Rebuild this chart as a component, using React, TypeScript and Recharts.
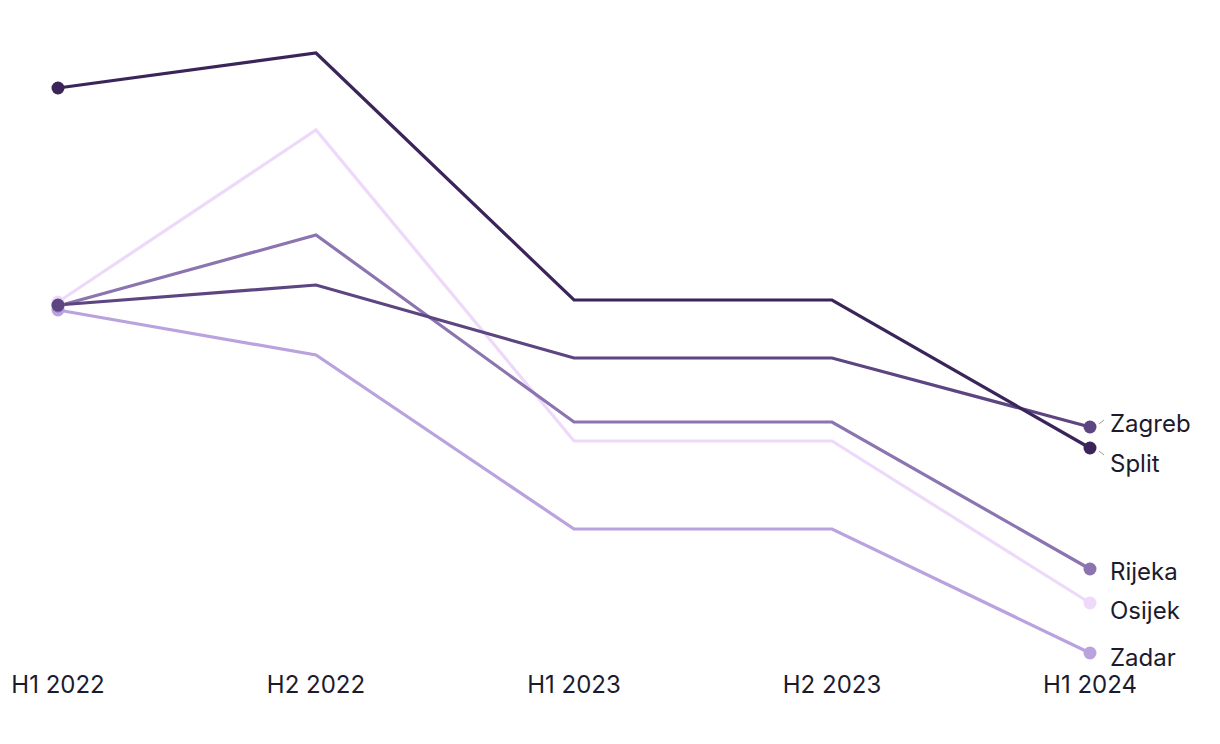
import { LineChart, Line, XAxis, YAxis, LabelList } from 'recharts';

const periods = ['H1 2022', 'H2 2022', 'H1 2023', 'H2 2023', 'H1 2024'];

const split = [582, 617, 370, 370, 222];
const zagreb = [365, 385, 312, 312, 243];
const rijeka = [364, 435, 248, 248, 101];
const osijek = [368, 540, 229, 229, 67];
const zadar = [360, 315, 141, 141, 17];

const series = [
  { key: 'Zadar', values: zadar, color: '#b9a2de', dy: 5, leader: 0 },
  { key: 'Osijek', values: osijek, color: '#eed9fa', dy: 8, leader: 0 },
  { key: 'Rijeka', values: rijeka, color: '#8b74b0', dy: 3, leader: 0 },
  { key: 'Zagreb', values: zagreb, color: '#5c4580', dy: -3, leader: -1 },
  { key: 'Split', values: split, color: '#3b2459', dy: 16, leader: 1 },
];

const data = periods.map((p, i) => {
  const row: Record<string, string | number> = { period: p };
  series.forEach((s) => (row[s.key] = s.values[i]));
  return row;
});

const last = periods.length - 1;
const font = "Inter, 'Noto Sans', sans-serif";

function makeDot(color: string) {
  return (props: any) => {
    const { cx, cy, index } = props;
    if (index !== 0 && index !== last) return <g key={index} />;
    return <circle key={index} cx={cx} cy={cy} r={6.5} fill={color} stroke="none" />;
  };
}

function makeLabel(name: string, dy: number, leader: number) {
  return (props: any) => {
    const { x, y, index } = props;
    if (index !== last) return null;
    return (
      <g>
        {leader !== 0 && (
          <line
            x1={x + 9}
            y1={y + leader * 3}
            x2={x + 14}
            y2={y + leader * 7}
            stroke="#999"
            strokeWidth={1}
          />
        )}
        <text x={x + 20} y={y + dy} dy="0.35em" fontSize={24} fontFamily={font} fill="#1c1b2e">
          {name}
        </text>
      </g>
    );
  };
}

export default function App() {
  return (
    <div style={{ position: 'absolute', left: 0, top: 0, width: 1220, height: 744 }}>
      <div
        style={{
          position: 'absolute',
          left: 0,
          top: 348,
          width: 1220,
          textAlign: 'center',
          fontFamily: font,
          fontWeight: 700,
          fontSize: 44,
          color: 'rgba(0,0,0,0.025)',
        }}
      >
        GlobalData
      </div>
      <LineChart
        width={1220}
        height={744}
        data={data}
        margin={{ top: 0, right: 130, left: 58, bottom: 0 }}
      >
        <XAxis
          dataKey="period"
          axisLine={false}
          tickLine={false}
          height={74}
          tickMargin={0}
          interval={0}
          tick={{ fontSize: 24, fill: '#1c1b2e', fontFamily: font }}
        />
        <YAxis hide domain={[0, 670]} />
        {series.map((s) => (
          <Line
            key={s.key}
            dataKey={s.key}
            stroke={s.color}
            strokeWidth={3.2}
            type="linear"
            dot={makeDot(s.color)}
            activeDot={false}
            isAnimationActive={false}
          >
            <LabelList dataKey={s.key} content={makeLabel(s.key, s.dy, s.leader)} />
          </Line>
        ))}
      </LineChart>
    </div>
  );
}
